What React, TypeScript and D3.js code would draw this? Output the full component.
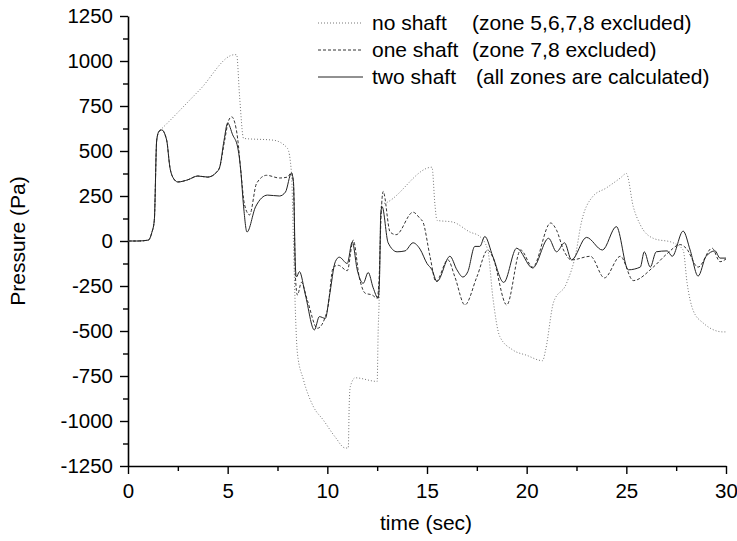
import React, { useEffect, useRef } from "react";
import * as d3 from "d3";

// time (sec), pressure (Pa)
const noShaft: [number, number][] = [
  [0, 0], [0.5, 0], [1.02, 5], [1.19, 45], [1.32, 115], [1.44, 560], [1.56, 610], [1.7, 625],
  [3.6, 840], [5.35, 1035], [5.45, 1035], [5.6, 800], [5.8, 570], [7.3, 560], [8.0, 515],
  [8.2, 380], [8.3, 0], [8.4, -400], [8.5, -625], [8.8, -770], [9.3, -920], [9.8, -995],
  [10.4, -1090], [10.9, -1150], [11.05, -1150], [11.1, -900], [11.15, -810], [11.4, -760],
  [12.5, -780], [12.55, -500], [12.6, -330], [12.65, 0], [12.7, 200], [13.0, 215], [15.25, 410],
  [15.4, 200], [15.5, 115], [16.3, 105], [17.15, 50], [17.65, 25], [18.05, -50], [18.3, -310],
  [18.65, -530], [19.3, -605], [20.0, -635], [20.8, -665], [20.95, -605], [21.35, -340],
  [22.0, -235], [22.5, -50], [22.7, 80], [23.3, 245], [24.0, 295], [24.7, 350], [25.0, 375],
  [25.35, 190], [25.7, 90], [26.35, 15], [27.35, -10], [27.85, -50], [28.05, -235],
  [28.35, -385], [28.85, -455], [29.85, -505], [30, -505],
];

const oneShaft: [number, number][] = [
  [0, 0], [0.5, 0], [1.02, 5], [1.19, 45], [1.32, 115], [1.44, 560], [1.56, 610], [1.69, 617],
  [1.94, 560], [2.1, 411], [2.27, 350], [2.5, 328], [3.0, 340], [3.5, 361], [4.0, 355],
  [4.45, 383], [4.6, 410], [4.85, 560], [5.05, 670], [5.2, 690], [5.35, 660], [5.5, 570],
  [5.65, 400], [5.85, 200], [6.1, 145], [6.45, 320], [6.95, 365], [7.6, 350], [8.0, 355],
  [8.2, 380], [8.3, 320], [8.4, -200], [8.5, -300], [8.7, -230], [9.0, -330], [9.5, -485],
  [10.0, -385], [10.3, -145], [10.55, -135], [11.0, -165], [11.3, 5], [11.6, -200],
  [11.9, -290], [12.25, -300], [12.5, -318], [12.6, -200], [12.7, 150], [12.8, 275],
  [13.15, 50], [13.45, 35], [14.3, 160], [14.65, 125], [14.8, 105], [15.15, -85], [15.45, -225],
  [16.05, -105], [16.4, -200], [16.9, -355], [17.5, -200], [18.05, -50], [18.3, -90],
  [19.0, -355], [19.7, -50], [20.3, -145], [21.2, 100], [21.5, 60], [21.85, -50], [22.25, -105],
  [23.2, -85], [23.9, -205], [24.7, -85], [25.35, -220], [26.35, -145], [27.05, -70],
  [27.7, -20], [28.0, -40], [28.6, -145], [29.3, -40], [29.7, -115], [30, -100],
];

const twoShaft: [number, number][] = [
  [0, 0], [0.5, 0], [1.02, 5], [1.19, 45], [1.32, 115], [1.44, 560], [1.56, 610], [1.69, 617],
  [1.94, 560], [2.1, 411], [2.27, 350], [2.5, 328], [3.0, 340], [3.5, 361], [4.0, 355],
  [4.45, 383], [4.6, 410], [4.82, 560], [5.0, 655], [5.25, 590], [5.5, 522], [5.65, 400],
  [5.8, 190], [5.97, 50], [6.4, 190], [7.0, 255], [7.6, 250], [7.9, 272], [8.2, 377],
  [8.3, 330], [8.4, -150], [8.45, -200], [8.6, -170], [8.9, -300], [9.35, -494], [9.6, -420],
  [9.9, -430], [10.1, -310], [10.4, -115], [10.6, -90], [11.0, -125], [11.25, -5], [11.5, -160],
  [11.8, -235], [12.05, -175], [12.3, -260], [12.55, -318], [12.62, -200], [12.68, 150],
  [12.75, 190], [13.05, -10], [13.5, -60], [13.9, -55], [14.3, -10], [14.65, -45], [15.0, -125],
  [15.25, -160], [15.5, -225], [16.15, -85], [16.5, -160], [16.8, -200], [17.05, -170],
  [17.4, -30], [17.65, -30], [17.9, 25], [18.3, -85], [18.85, -230], [19.5, -40], [20.3, -150],
  [21.1, 15], [21.5, -60], [21.9, -10], [22.25, -105], [23.0, 20], [23.8, -50], [24.5, 80],
  [25.1, -160], [25.7, -145], [25.9, -60], [26.2, -145], [26.5, -60], [27.05, -55], [27.3, -85],
  [27.85, 55], [28.2, -50], [28.6, -195], [29.0, -85], [29.45, -55], [29.7, -95], [30, -95],
];

const xTicks = [0, 5, 10, 15, 20, 25, 30];
const yTicks = [-1250, -1000, -750, -500, -250, 0, 250, 500, 750, 1000, 1250];

const legendNames = ["no shaft", "one shaft", "two shaft"];
const legendNotes = ["(zone 5,6,7,8 excluded)", "(zone 7,8 excluded)", "(all zones are calculated)"];

const width = 737;
const height = 541;
const font = "'Liberation Sans', Arial, sans-serif";

const App = () => {
  const ref = useRef<SVGSVGElement>(null);

  useEffect(() => {
    const svg = d3.select(ref.current);
    svg.selectAll("*").remove();

    const x = d3.scaleLinear().domain([0, 30]).range([128, 726]);
    const y = d3.scaleLinear().domain([-1250, 1250]).range([466, 16]);

    const mid = (a: number[]) => a.slice(1).map((v, i) => (v + a[i]) / 2);

    // minor ticks
    svg
      .append("g")
      .attr("transform", `translate(${x(0)},0)`)
      .call(d3.axisLeft(y).tickValues(mid(yTicks)).tickSize(5).tickFormat(() => ""))
      .call((g) => g.select(".domain").remove());
    svg
      .append("g")
      .attr("transform", `translate(0,${y(-1250)})`)
      .call(d3.axisBottom(x).tickValues(mid(xTicks)).tickSize(5).tickFormat(() => ""))
      .call((g) => g.select(".domain").remove());

    const yAxis = svg
      .append("g")
      .attr("transform", `translate(${x(0)},0)`)
      .call(d3.axisLeft(y).tickValues(yTicks).tickSize(8).tickSizeOuter(0).tickPadding(7).tickFormat((d) => String(d)));
    const xAxis = svg
      .append("g")
      .attr("transform", `translate(0,${y(-1250)})`)
      .call(d3.axisBottom(x).tickValues(xTicks).tickSize(8).tickSizeOuter(0).tickPadding(9).tickFormat((d) => String(d)));

    [yAxis, xAxis].forEach((g) => {
      g.select(".domain").attr("stroke-width", 1.6);
      g.selectAll("line").attr("stroke-width", 1.4);
      g.selectAll("text").attr("font-size", 20.5).attr("font-family", font).attr("fill", "#000");
    });
    svg.selectAll("g line").attr("stroke", "#000").attr("stroke-width", 1.4);

    const line = d3
      .line<[number, number]>()
      .x((d) => x(d[0]))
      .y((d) => y(d[1]))
      .curve(d3.curveMonotoneX);

    const styles = [
      { data: noShaft, stroke: "#777", dash: "1,2" },
      { data: oneShaft, stroke: "#333", dash: "3,2" },
      { data: twoShaft, stroke: "#222", dash: null },
    ];

    styles.forEach((s) => {
      svg
        .append("path")
        .datum(s.data)
        .attr("fill", "none")
        .attr("stroke", s.stroke)
        .attr("stroke-width", 1)
        .attr("stroke-dasharray", s.dash)
        .attr("d", line);
    });

    // legend
    const legend = svg.append("g").attr("font-family", font).attr("font-size", 21);
    styles.forEach((s, i) => {
      const ly = 23 + i * 27;
      legend
        .append("line")
        .attr("x1", 318)
        .attr("x2", 363)
        .attr("y1", ly)
        .attr("y2", ly)
        .attr("stroke", s.stroke)
        .attr("stroke-width", 1)
        .attr("stroke-dasharray", s.dash);
      legend.append("text").attr("x", 372).attr("y", ly).attr("dy", "0.35em").text(legendNames[i]);
      legend
        .append("text")
        .attr("x", i === 2 ? 476 : 472)
        .attr("y", ly)
        .attr("dy", "0.35em")
        .text(legendNotes[i]);
    });

    svg
      .append("text")
      .attr("x", 426)
      .attr("y", 530)
      .attr("text-anchor", "middle")
      .attr("font-family", font)
      .attr("font-size", 21)
      .text("time (sec)");

    svg
      .append("text")
      .attr("transform", `translate(25,241) rotate(-90)`)
      .attr("text-anchor", "middle")
      .attr("font-family", font)
      .attr("font-size", 21)
      .text("Pressure (Pa)");
  }, []);

  return (
    <svg
      ref={ref}
      width={width}
      height={height}
      style={{ position: "absolute", left: 0, top: 0, background: "#fff" }}
    />
  );
};

export default App;
